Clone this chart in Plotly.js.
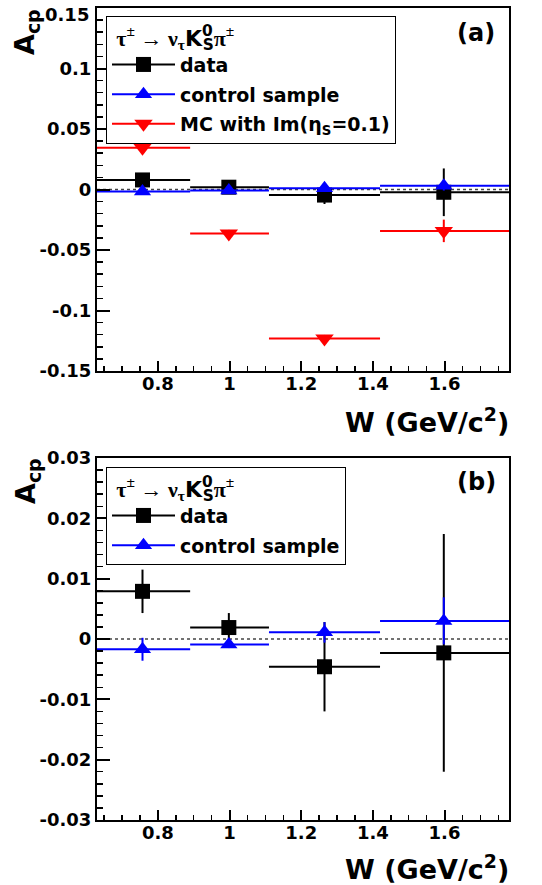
<!DOCTYPE html>
<html><head><meta charset="utf-8">
<script src="https://cdn.plot.ly/plotly-3.0.1.min.js"></script>
<style>html,body{margin:0;padding:0;background:#fff}</style>
</head><body><div id="chart" style="width:542px;height:885px"></div>
<script>
// ---- data ----
const binLo = [0.63, 0.89, 1.11, 1.42];
const binHi = [0.89, 1.11, 1.42, 1.78];
const wCenter = [0.757, 0.998, 1.265, 1.598];
const dataAcp = [0.0079, 0.0019, -0.0046, -0.0023];
const dataErr = [0.0036, 0.0024, 0.0074, 0.0197];
const ctrlAcp = [-0.0017, -0.0009, 0.0011, 0.0030];
const ctrlErr = [0.0019, 0.0006, 0.0017, 0.0039];
const mcAcp = [0.0345, -0.0364, -0.1232, -0.0342];
const mcErr = [0.003, 0.003, 0.003, 0.0093];
const seriesNames = ['data', 'control sample', 'MC with Im(η<sub>S</sub>=0.1)'];
const yTicksTop = [-0.15, -0.1, -0.05, 0, 0.05, 0.1, 0.15];
const yTickTextTop = ['-0.15', '-0.1', '-0.05', '0', '0.05', '0.1', '0.15'];
const yTicksBot = [-0.03, -0.02, -0.01, 0, 0.01, 0.02, 0.03];
const yTickTextBot = ['-0.03', '-0.02', '-0.01', '0', '0.01', '0.02', '0.03'];
const xTicks = [0.8, 1, 1.2, 1.4, 1.6];
const xTickText = ['0.8', '1', '1.2', '1.4', '1.6'];

// ---- layout geometry ----
const FW = 542, FH = 885, ML = 97, MR = 33, MT = 8, MB = 65;
const PW = FW - ML - MR, PH = FH - MT - MB;
const px = x => (x - ML) / PW;
const py = y => (FH - MB - y) / PH;

const errRight = binHi.map((h, i) => h - wCenter[i]);
const errLeft = wCenter.map((c, i) => c - binLo[i]);

const BOLD = {family: 'DejaVu Sans', weight: 'bold', color: '#000'};

function series(y, err, color, symbol, size, xa, ya) {
  return {
    type: 'scatter', mode: 'markers', x: wCenter, y: y, xaxis: xa, yaxis: ya,
    showlegend: false, cliponaxis: false,
    marker: {color: color, symbol: symbol, size: size, line: {width: 0}},
    error_x: {type: 'data', symmetric: false, array: errRight, arrayminus: errLeft,
              width: 0, thickness: 2, color: color},
    error_y: {type: 'data', array: err, width: 0, thickness: 2, color: color}
  };
}
function proxy(name, color, symbol, size, leg, grp) {
  return {
    type: 'scatter', mode: 'lines+markers', x: [null], y: [null], name: name,
    legend: leg, legendgroup: grp, showlegend: true,
    line: {color: color, width: 2},
    marker: {color: color, symbol: symbol, size: size, line: {width: 0}}
  };
}

const traces = [
  series(dataAcp, dataErr, '#000000', 'square', 15, 'x', 'y'),
  series(ctrlAcp, ctrlErr, '#0000ff', 'triangle-up', 15, 'x', 'y'),
  series(mcAcp, mcErr, '#ff0000', 'triangle-down', 16, 'x', 'y'),
  series(dataAcp, dataErr, '#000000', 'square', 15, 'x2', 'y2'),
  series(ctrlAcp, ctrlErr, '#0000ff', 'triangle-up', 15, 'x2', 'y2'),
  proxy(seriesNames[0], '#000000', 'square', 15, 'legend', 'a1'),
  proxy(seriesNames[1], '#0000ff', 'triangle-up', 15, 'legend', 'a2'),
  proxy(seriesNames[2], '#ff0000', 'triangle-down', 16, 'legend', 'a3'),
  proxy(seriesNames[0], '#000000', 'square', 15, 'legend2', 'b1'),
  proxy(seriesNames[1], '#0000ff', 'triangle-up', 15, 'legend2', 'b2')
];

function xaxisDef(anchor) {
  return {
    anchor: anchor, domain: [0, 1], range: [binLo[0], binHi[3]],
    tickmode: 'array', tickvals: xTicks, ticktext: xTickText,
    ticks: 'inside', ticklen: 10, tickwidth: 2, tickcolor: '#000',
    showline: true, linecolor: '#000', linewidth: 2, mirror: true,
    showgrid: false, zeroline: false, ticklabelstandoff: -5,
    minor: {tickmode: 'linear', tick0: 0.6, dtick: 0.05, ticks: 'inside', ticklen: 5, tickwidth: 1.5, tickcolor: '#000', showgrid: false},
    tickfont: Object.assign({size: 18}, BOLD)
  };
}
function yaxisDef(anchor, dom, rng, tv, tt, mdt) {
  return {
    anchor: anchor, domain: dom, range: rng,
    tickmode: 'array', tickvals: tv, ticktext: tt,
    ticks: 'inside', ticklen: 13, tickwidth: 2, tickcolor: '#000',
    showline: true, linecolor: '#000', linewidth: 2, mirror: true,
    showgrid: false, zeroline: false, ticklabelstandoff: 0, ticklabeloverflow: 'allow',
    minor: {tickmode: 'linear', tick0: 0, dtick: mdt, ticks: 'inside', ticklen: 6, tickwidth: 1.5, tickcolor: '#000', showgrid: false},
    tickfont: Object.assign({size: 18}, BOLD)
  };
}

// the top-most label of panel (a) sits just below its tick (as in the reference), so it is drawn as an annotation
const topTickTextShown = yTickTextTop.map((t, i) => i === yTickTextTop.length - 1 ? '' : t);

const legTitle = '\u2004τ<sup>±</sup> → ν<sub>τ</sub><span style="font-family:DejaVu Sans;font-weight:bold">K<sup><span style="letter-spacing:-10px">0</span></sup><sub>S</sub></span>π<sup>±</sup>';
function legendDef(xp, yp) {
  return {
    x: px(xp), y: py(yp), xanchor: 'left', yanchor: 'top',
    bgcolor: '#fff', bordercolor: '#000', borderwidth: 1,
    font: Object.assign({size: 19}, BOLD),
    title: {text: legTitle, font: {family: 'Liberation Serif', size: 22, color: '#000'}},
    itemwidth: 63, tracegroupgap: 2, itemsizing: 'trace'
  };
}

const annFontBig = Object.assign({size: 27}, BOLD);
const eps = 1e-9;
const layout = {
  width: FW, height: FH,
  margin: {l: ML, r: MR, t: MT, b: MB},
  paper_bgcolor: '#fff', plot_bgcolor: '#fff',
  xaxis: xaxisDef('y'),
  yaxis: yaxisDef('x', [py(371), 1], [-0.15 - eps, 0.15 + eps], yTicksTop, topTickTextShown, 0.01),
  xaxis2: xaxisDef('y2'),
  yaxis2: yaxisDef('x2', [0, py(458)], [-0.03 - eps, 0.03 + eps], yTicksBot, yTickTextBot, 0.002),
  legend: legendDef(106, 16),
  legend2: legendDef(106, 467),
  shapes: [
    {type: 'line', xref: 'x', yref: 'y', x0: binLo[0], x1: binHi[3], y0: 0, y1: 0, layer: 'below',
     line: {color: '#444', width: 1.5, dash: 'dot'}},
    {type: 'line', xref: 'x2', yref: 'y2', x0: binLo[0], x1: binHi[3], y0: 0, y1: 0, layer: 'below',
     line: {color: '#444', width: 1.5, dash: 'dot'}}
  ],
  annotations: [
    {text: yTickTextTop[yTickTextTop.length - 1], xref: 'paper', yref: 'paper', x: px(91), y: py(15),
     xanchor: 'right', yanchor: 'middle', showarrow: false, font: Object.assign({size: 18}, BOLD)},
    {text: 'A<sub>cp</sub>', textangle: -90, xref: 'paper', yref: 'paper', x: px(27), y: py(7),
     xanchor: 'center', yanchor: 'top', showarrow: false, font: annFontBig},
    {text: 'A<sub>cp</sub>', textangle: -90, xref: 'paper', yref: 'paper', x: px(27), y: py(456),
     xanchor: 'center', yanchor: 'top', showarrow: false, font: annFontBig},
    {text: 'W (GeV/c<sup>2</sup>)', xref: 'paper', yref: 'paper', x: px(511), y: py(421),
     xanchor: 'right', yanchor: 'middle', showarrow: false, font: annFontBig},
    {text: 'W (GeV/c<sup>2</sup>)', xref: 'paper', yref: 'paper', x: px(511), y: py(868),
     xanchor: 'right', yanchor: 'middle', showarrow: false, font: annFontBig},
    {text: '(a)', xref: 'paper', yref: 'paper', x: px(476), y: py(33),
     xanchor: 'center', yanchor: 'middle', showarrow: false, font: Object.assign({size: 24}, BOLD)},
    {text: '(b)', xref: 'paper', yref: 'paper', x: px(476), y: py(482),
     xanchor: 'center', yanchor: 'middle', showarrow: false, font: Object.assign({size: 24}, BOLD)}
  ]
};

Plotly.newPlot('chart', traces, layout, {displayModeBar: false, staticPlot: true});
</script></body></html>
